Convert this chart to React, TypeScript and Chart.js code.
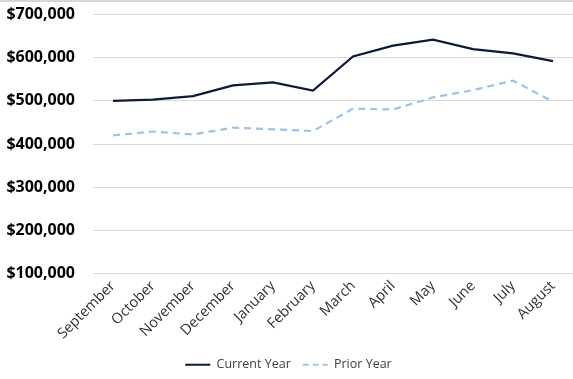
import React, { useEffect, useRef } from "react";
import { Chart, registerables } from "chart.js";

Chart.register(...registerables);

const months = ["September", "October", "November", "December", "January", "February", "March", "April", "May", "June", "July", "August"];
const currentYear = [500000, 503000, 511000, 536000, 543000, 524000, 603000, 628000, 642000, 620000, 610000, 592000];
const priorYear = [420000, 429000, 422000, 438000, 434000, 430000, 482000, 480000, 508000, 525000, 547000, 498000];
const yMin = 100000;
const yMax = 700000;
const yStep = 100000;
const priorDash = [7, 5];
const legendDash = [6, 4];

export default function App() {
  const ref = useRef<HTMLCanvasElement | null>(null);
  useEffect(() => {
    if (!ref.current) return;
    const chart = new Chart(ref.current, {
      type: "line",
      data: {
        labels: months,
        datasets: [
          {
            label: "Current Year",
            data: currentYear,
            borderColor: "#0e1a3c",
            backgroundColor: "#0e1a3c",
            borderWidth: 2.2,
            pointRadius: 0,
            tension: 0,
          },
          {
            label: "Prior Year",
            data: priorYear,
            borderColor: "#9dc3e6",
            backgroundColor: "#9dc3e6",
            borderWidth: 2.2,
            borderDash: priorDash,
            pointRadius: 0,
            tension: 0,
          },
        ],
      },
      options: {
        animation: false,
        responsive: true,
        maintainAspectRatio: false,
        layout: { padding: { left: 4, right: 0, top: 4, bottom: 12 } },
        plugins: {
          tooltip: { enabled: false },
          legend: {
            position: "bottom",
            labels: {
              usePointStyle: true,
              pointStyle: "line",
              pointStyleWidth: 25,
              boxWidth: 18,
              boxHeight: 12,
              padding: 12,
              color: "#404040",
              font: { family: "'Open Sans', sans-serif", size: 12.5 },
              generateLabels: (c: any) => {
                const items = (Chart.defaults.plugins.legend.labels as any).generateLabels(c);
                return items.map((it: any, i: number) => ({
                  ...it,
                  lineDash: i === 1 ? legendDash : [],
                  lineWidth: 2.2,
                }));
              },
            },
          },
        },
        scales: {
          x: {
            offset: true,
            grid: { display: false, drawTicks: false },
            border: { display: false },
            ticks: {
              maxRotation: 45,
              minRotation: 45,
              autoSkip: false,
              color: "#333333",
              padding: 4,
              font: { family: "'Open Sans', sans-serif", size: 14.5 },
            },
          },
          y: {
            min: yMin,
            max: yMax,
            afterFit: (s: any) => {
              s.width = 89;
            },
            grid: { color: "#d9d9d9", drawTicks: false, lineWidth: 1 },
            border: { display: false },
            ticks: {
              stepSize: yStep,
              padding: 18,
              color: "#000000",
              font: { family: "'Open Sans', sans-serif", size: 16, weight: "bold" },
              callback: (v: any) => "$" + Number(v).toLocaleString("en-US"),
            },
          },
        },
      },
    });
    return () => chart.destroy();
  }, []);
  return (
    <div style={{ position: "fixed", left: 0, top: 0, width: 573, height: 379, background: "#fff", overflow: "hidden" }}>
      <div style={{ position: "absolute", left: 0, top: -13, width: 573, height: 406 }}>
        <canvas ref={ref} />
      </div>
      <div style={{ position: "absolute", left: 0, top: 0, width: 573, height: 2, background: "#d6d6d6" }} />
    </div>
  );
}
